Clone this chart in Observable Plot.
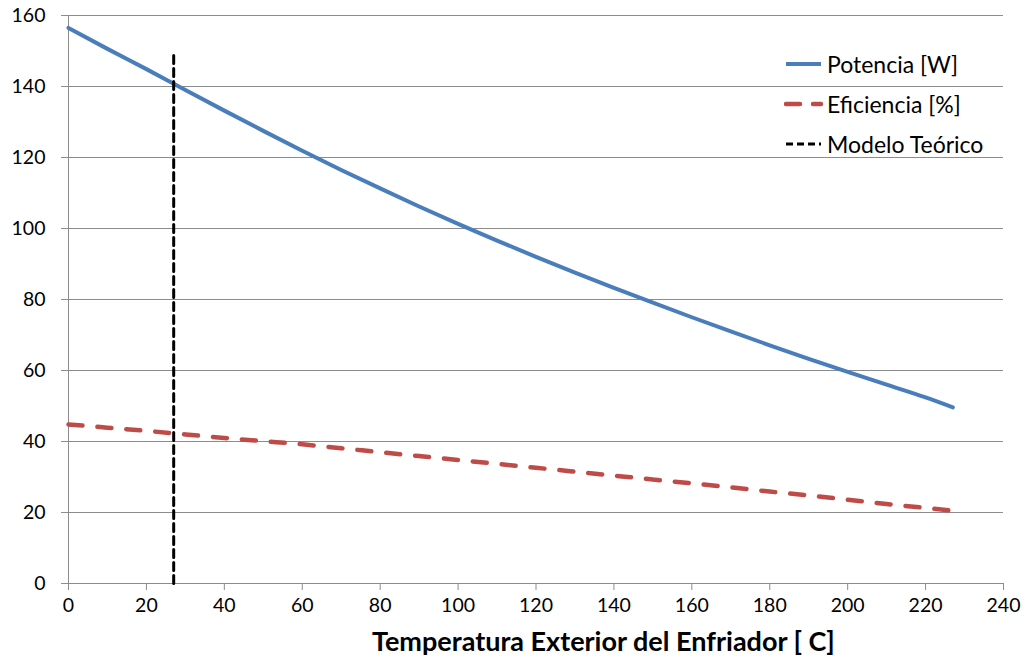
<!DOCTYPE html>
<html><head><meta charset="utf-8">
<script src="https://cdn.jsdelivr.net/npm/d3@7"></script>
<script src="https://cdn.jsdelivr.net/npm/@observablehq/plot@0.6"></script>
<style>
body{margin:0;background:#fff;font-family:Lato,"Open Sans",sans-serif;}
#wrap{position:relative;width:1029px;height:658px;}
#legend{position:absolute;left:784px;top:44px;font-size:23px;color:#000;}
#legend .row{display:flex;align-items:center;height:40px;}
#legend svg{margin-right:3px}
#xtitle{position:absolute;left:372px;top:624px;white-space:nowrap;font-weight:bold;font-size:27px;}
</style></head>
<body><div id="wrap"></div>
<script>
const temp = [0,10,20,30,40,50,60,70,80,90,100,110,120,130,140,150,160,170,180,190,200,210,220,227];
const potencia = [156.5,150.6,144.9,139.0,133.2,127.5,121.9,116.5,111.3,106.2,101.3,96.6,92.0,87.6,83.3,79.1,75.0,71.0,67.1,63.3,59.6,56.0,52.4,49.6];
const eficiencia = [44.8,43.9,43.0,42.0,41.0,40.1,39.2,38.1,37.0,35.9,34.8,33.7,32.6,31.5,30.4,29.3,28.2,27.1,25.9,24.8,23.6,22.4,21.3,20.5];
const modeloX = 27;
const modeloY = [0,150];
const xTicks = [0,20,40,60,80,100,120,140,160,180,200,220,240];
const yTicks = [0,20,40,60,80,100,120,140,160];
const seriesNames = ["Potencia [W]","Eficiencia [%]","Modelo Teórico"];
const xTitle = "Temperatura Exterior del Enfriador [ C]";

const pot = temp.map((t,i)=>({t, v:potencia[i]}));
const efi = temp.map((t,i)=>({t, v:eficiencia[i]}));
const mod = modeloY.map(v=>({t:modeloX, v}));

const chart = Plot.plot({
  width:1029, height:658,
  marginLeft:68, marginRight:26, marginTop:15, marginBottom:75,
  style:{fontFamily:"Lato, 'Open Sans', sans-serif", fontSize:"19.5px", color:"#000", background:"#fff"},
  x:{domain:[0,240]},
  y:{domain:[0,160]},
  marks:[
    Plot.ruleY(yTicks,{stroke:"#8c8c8c", strokeWidth:1}),
    Plot.ruleX([0],{stroke:"#8c8c8c", strokeWidth:1}),
    Plot.axisY({ticks:yTicks, tickSize:7, tickPadding:16, stroke:"#8c8c8c", fill:"#000", label:null, tickFormat:d=>d}),
    Plot.axisX({ticks:xTicks, tickSize:7, tickPadding:8, stroke:"#8c8c8c", fill:"#000", label:null, tickFormat:d=>d}),
    Plot.line(efi,{x:"t", y:"v", stroke:"#be4b48", strokeWidth:4.5, strokeDasharray:"14,15", strokeLinecap:"round", curve:"monotone-x"}),
    Plot.line(pot,{x:"t", y:"v", stroke:"#4a7ebb", strokeWidth:4, strokeLinecap:"round", curve:"monotone-x"}),
    Plot.line(mod,{x:"t", y:"v", stroke:"#000", strokeWidth:3, strokeDasharray:"8,5"})
  ]
});
const wrap = document.getElementById("wrap");
wrap.appendChild(chart);
const leg = document.createElement("div"); leg.id="legend";
const styles = [
  {stroke:"#4a7ebb", dash:"", w:4, cap:"butt"},
  {stroke:"#be4b48", dash:"14,13", w:4.5, cap:"round"},
  {stroke:"#000", dash:"7,4", w:3, cap:"butt"}
];
seriesNames.forEach((n,i)=>{
  const s = styles[i];
  const row = document.createElement("div"); row.className="row";
  row.innerHTML = `<svg width="40" height="10"><line x1="2" x2="37" y1="5" y2="5" stroke="${s.stroke}" stroke-width="${s.w}" stroke-dasharray="${s.dash}" stroke-linecap="${s.cap}"/></svg><span>${n}</span>`;
  leg.appendChild(row);
});
wrap.appendChild(leg);
const xt = document.createElement("div"); xt.id="xtitle"; xt.textContent = xTitle;
wrap.appendChild(xt);
</script></body></html>
